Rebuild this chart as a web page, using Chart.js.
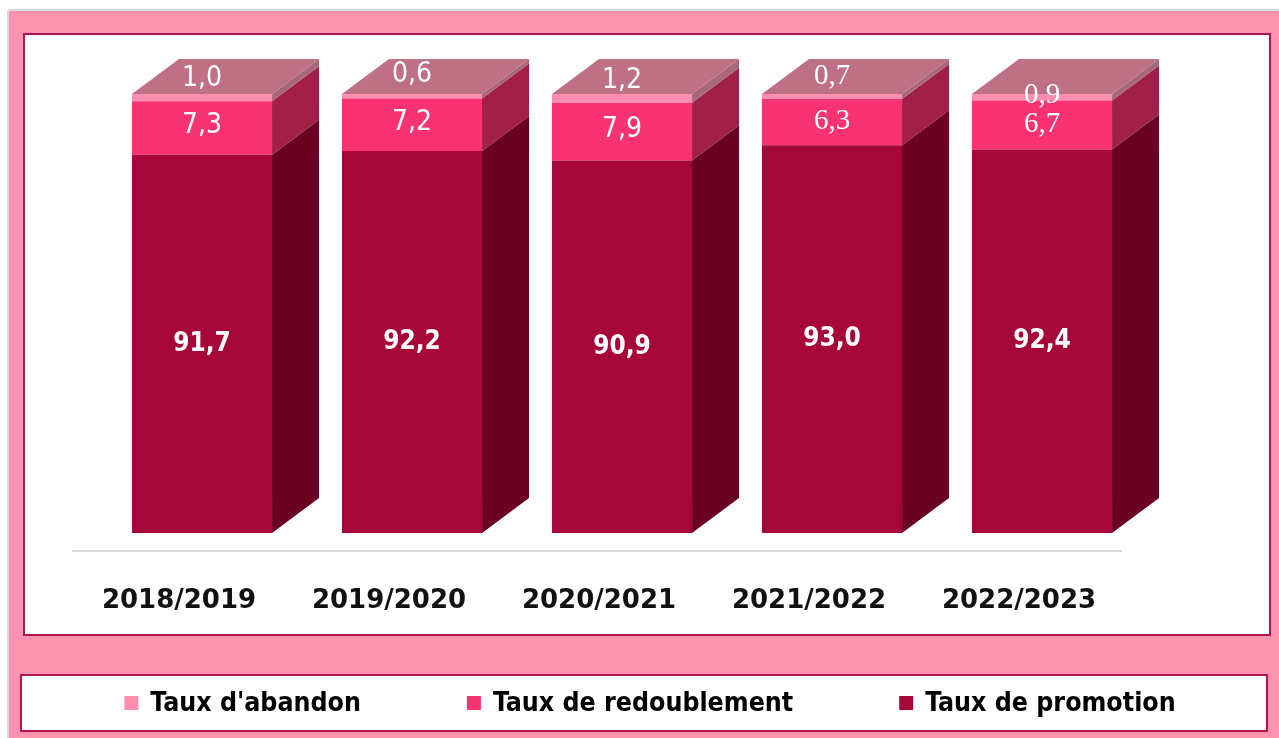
<!DOCTYPE html>
<html>
<head>
<meta charset="utf-8">
<script src="https://cdn.jsdelivr.net/npm/chart.js@4.4.0/dist/chart.umd.min.js"></script>
<style>
  html, body { margin: 0; padding: 0; background: #fff; }
  #wrap { width: 1279px; height: 738px; }
</style>
</head>
<body>
<div id="wrap"><canvas id="chart" width="1279" height="738"></canvas></div>
<script>
// data (stacked shares, %)
const years = ['2018/2019', '2019/2020', '2020/2021', '2021/2022', '2022/2023'];
const promotion = [91.7, 92.2, 90.9, 93.0, 92.4];
const redoublement = [7.3, 7.2, 7.9, 6.3, 6.7];
const abandon = [1.0, 0.6, 1.2, 0.7, 0.9];

const PINK = '#FC93B0';
const FRAME = '#B0154A';
const DX = 47, DY = 35; // 3d depth

// colours: front, side
const faces = [
  { front: '#A60738', side: '#6A0122' },
  { front: '#F93371', side: '#A11F48' },
  { front: '#FD8FAE', side: '#A8687C' }
];
const TOP_FACE = '#BE7085';

// small label nudges (the original labels were moved by hand)
const labelLift = [
  [0, 0, 0, 0, 0],
  [2, 2, 2, 1, 1],
  [19, 21, 18, 20, 2]
];
const serifSmall = [false, false, false, true, true];

function frameBox(ctx, x, y, w, h) {
  ctx.fillStyle = '#fff';
  ctx.fillRect(x, y, w, h);
  ctx.strokeStyle = FRAME;
  ctx.lineWidth = 2;
  ctx.strokeRect(x, y, w, h);
}

function segment(chart, el) {
  const { x, y, base, width } = el.getProps(['x', 'y', 'base', 'width'], true);
  const top = Math.max(Math.min(y, base), chart.chartArea.top);
  const bottom = Math.min(Math.max(y, base), chart.chartArea.bottom);
  return { x, top, bottom, L: x - width / 2, R: x + width / 2 };
}

const bars3d = {
  id: 'bars3d',
  beforeDraw(chart) {
    const ctx = chart.ctx;
    ctx.save();
    ctx.fillStyle = '#fff';
    ctx.fillRect(0, 0, chart.width, chart.height);
    ctx.fillStyle = PINK;
    ctx.fillRect(8, 10, chart.width - 8, chart.height - 10);
    ctx.strokeStyle = '#D9D9D9';
    ctx.lineWidth = 2;
    ctx.beginPath();
    ctx.moveTo(8, 10); ctx.lineTo(chart.width, 10);
    ctx.moveTo(8, 10); ctx.lineTo(8, chart.height);
    ctx.stroke();
    frameBox(ctx, 24, 34, 1246, 601);
    frameBox(ctx, 21, 675, 1246, 56);
    ctx.restore();
  },
  beforeDatasetsDraw(chart) {
    const { ctx, chartArea } = chart;
    ctx.save();
    ctx.strokeStyle = '#D9D9D9';
    ctx.lineWidth = 2;
    ctx.beginPath();
    ctx.moveTo(chartArea.left - 25, chartArea.bottom + 18);
    ctx.lineTo(chartArea.right - 25, chartArea.bottom + 18);
    ctx.stroke();
    ctx.restore();
  },
  afterDatasetsDraw(chart) {
    const ctx = chart.ctx;
    const n = chart.data.datasets.length;
    ctx.save();
    chart.data.datasets.forEach((ds, d) => {
      chart.getDatasetMeta(d).data.forEach((el) => {
        const { top, bottom, L, R } = segment(chart, el);
        ctx.fillStyle = faces[d].side;
        ctx.beginPath();
        ctx.moveTo(R, top);
        ctx.lineTo(R + DX, top - DY);
        ctx.lineTo(R + DX, bottom - DY);
        ctx.lineTo(R, bottom);
        ctx.closePath();
        ctx.fill();
        if (d === n - 1) {
          ctx.fillStyle = TOP_FACE;
          ctx.beginPath();
          ctx.moveTo(L, top);
          ctx.lineTo(L + DX, top - DY);
          ctx.lineTo(R + DX, top - DY);
          ctx.lineTo(R, top);
          ctx.closePath();
          ctx.fill();
        }
      });
    });

    // value labels
    ctx.fillStyle = '#fff';
    ctx.textAlign = 'center';
    ctx.textBaseline = 'middle';
    chart.data.datasets.forEach((ds, d) => {
      chart.getDatasetMeta(d).data.forEach((el, i) => {
        const { x, top, bottom } = segment(chart, el);
        const mid = (top + bottom) / 2 - labelLift[d][i];
        if (d === 0) {
          ctx.font = 'bold 26px "DejaVu Sans Condensed", "DejaVu Sans"';
        } else if (serifSmall[i]) {
          ctx.font = '29px "Liberation Serif"';
        } else {
          ctx.font = '28px "DejaVu Sans Condensed", "DejaVu Sans"';
        }
        ctx.fillText(ds.data[i].toFixed(1).replace('.', ','), x, mid);
      });
    });

    // legend row, centred in its own box
    const items = Chart.defaults.plugins.legend.labels.generateLabels(chart).reverse();
    ctx.font = 'bold 26.5px "DejaVu Sans Condensed", "DejaVu Sans"';
    const box = 14, gapText = 12, gapItem = 106, cy = 703;
    const widths = items.map(it => box + gapText + ctx.measureText(it.text).width);
    const total = widths.reduce((a, b) => a + b, 0) + gapItem * (items.length - 1);
    let cx = 650 - total / 2;
    ctx.textAlign = 'left';
    items.forEach((it, k) => {
      ctx.fillStyle = it.fillStyle;
      ctx.fillRect(cx, cy - box / 2, box, box);
      ctx.fillStyle = '#000';
      ctx.fillText(it.text, cx + box + gapText, cy + 1);
      cx += widths[k] + gapItem;
    });
    ctx.restore();
  }
};

new Chart(document.getElementById('chart'), {
  type: 'bar',
  data: {
    labels: years,
    datasets: [
      { label: 'Taux de promotion', data: promotion, backgroundColor: faces[0].front },
      { label: 'Taux de redoublement', data: redoublement, backgroundColor: faces[1].front },
      { label: "Taux d'abandon", data: abandon, backgroundColor: faces[2].front }
    ]
  },
  options: {
    responsive: false,
    animation: false,
    devicePixelRatio: 1,
    layout: { padding: { left: 97, right: 132, top: 94, bottom: 0 } },
    datasets: { bar: { categoryPercentage: 1, barPercentage: 0.667 } },
    plugins: { legend: { display: false }, tooltip: { enabled: false } },
    scales: {
      x: {
        stacked: true,
        grid: { display: false, drawTicks: false },
        border: { display: false },
        ticks: {
          color: '#111',
          font: { family: '"DejaVu Sans"', size: 26, weight: 'bold' },
          padding: 53,
          labelOffset: -23
        },
        afterFit(scale) { scale.height = 205; }
      },
      y: {
        stacked: true,
        display: false,
        min: 40,
        max: 100
      }
    }
  },
  plugins: [bars3d]
});
</script>
</body>
</html>
